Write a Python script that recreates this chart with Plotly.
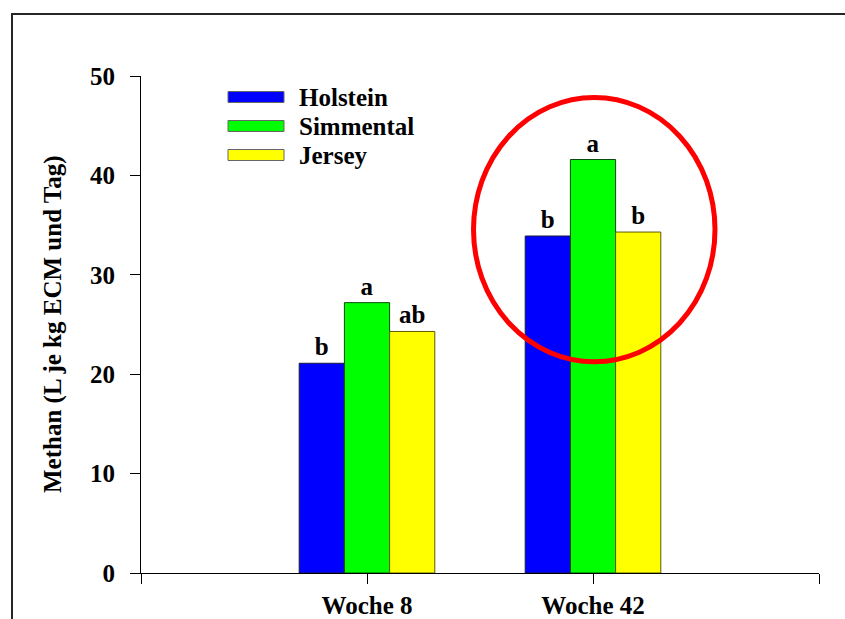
import plotly.graph_objects as go

categories = ["Woche 8", "Woche 42"]
breeds = ["Holstein", "Simmental", "Jersey"]
holstein = [21.1, 33.9]
simmental = [27.2, 41.6]
jersey = [24.3, 34.3]
letters_holstein = ["b", "b"]
letters_simmental = ["a", "a"]
letters_jersey = ["ab", "b"]
y_ticks = [0, 10, 20, 30, 40, 50]

values = [holstein, simmental, jersey]
letters = [letters_holstein, letters_simmental, letters_jersey]
fills = ["#0000FF", "#00FF00", "#FFFF00"]
edges = ["#1a1a40", "#0a4a0a", "#5a5a00"]

FONT = "Liberation Serif, Times New Roman, serif"
FS = 25
xpos = [i + 1 for i in range(len(categories))]

fig = go.Figure()
for name, vals, lets, fc, ec in zip(breeds, values, letters, fills, edges):
    fig.add_trace(go.Bar(
        x=xpos, y=vals, name=name,
        marker=dict(color=fc, line=dict(color=ec, width=1)),
        text=lets, textposition="outside", cliponaxis=False,
        textfont=dict(family=FONT, size=FS, color="black", weight="bold"),
        showlegend=False,
    ))

# plot area pixel geometry (for overlay shapes in paper coords)
L, R, T, B = 141, 819, 76, 573
W, H = R - L, B - T
def px(x):
    return (x - L) / W
def py(y):
    return (B - y) / H

shapes = []
annotations = []
# outer frame
shapes.append(dict(type="rect", xref="paper", yref="paper",
                   x0=px(12), x1=px(900), y0=py(680), y1=py(14),
                   line=dict(color="#262626", width=2), layer="below"))
# legend swatches + labels
leg_y = [97, 126, 155]
for name, fc, ec, cy in zip(breeds, fills, edges, leg_y):
    shapes.append(dict(type="rect", xref="paper", yref="paper",
                       x0=px(228), x1=px(284), y0=py(cy + 5.5), y1=py(cy - 5.5),
                       fillcolor=fc, line=dict(color="#666666", width=1)))
    annotations.append(dict(xref="paper", yref="paper", x=px(297), y=py(cy),
                            xanchor="left", yanchor="middle", showarrow=False,
                            text=name, font=dict(family=FONT, size=FS, color="black", weight="bold")))
# red circle
shapes.append(dict(type="circle", xref="paper", yref="paper",
                   x0=px(473.5), x1=px(715), y0=py(361.7), y1=py(97.5),
                   line=dict(color="#FF0000", width=5)))
# y-axis title
annotations.append(dict(xref="paper", yref="paper", x=px(53), y=py(324),
                        xanchor="center", yanchor="middle", showarrow=False, textangle=-90,
                        text="Methan (L je kg ECM und Tag)",
                        font=dict(family=FONT, size=FS, color="black", weight="bold")))

fig.update_layout(
    width=845, height=619,
    margin=dict(l=L, r=845 - R, t=T, b=619 - B),
    paper_bgcolor="white", plot_bgcolor="white",
    barmode="group", bargap=0.4, bargroupgap=0,
    font=dict(family=FONT, size=FS, color="black", weight="bold"),
    shapes=shapes, annotations=annotations,
    showlegend=False,
)
fig.update_xaxes(
    range=[0, len(categories) + 1],
    tickmode="array", tickvals=[0] + xpos + [len(categories) + 1],
    ticktext=[""] + categories + [""],
    showline=True, linecolor="black", linewidth=1,
    ticks="outside", ticklen=10, tickwidth=1, tickcolor="black",
    showgrid=False, zeroline=False, ticklabelstandoff=0, automargin=False,
    tickfont=dict(family=FONT, size=FS, color="black", weight="bold"),
)
fig.update_yaxes(
    range=[0, 50], tickmode="array", tickvals=y_ticks,
    showline=True, linecolor="black", linewidth=1,
    ticks="outside", ticklen=10, tickwidth=1, tickcolor="black",
    showgrid=False, zeroline=False, ticklabelstandoff=10, automargin=False,
    tickfont=dict(family=FONT, size=FS, color="black", weight="bold"),
)

fig.write_html("out.html")
